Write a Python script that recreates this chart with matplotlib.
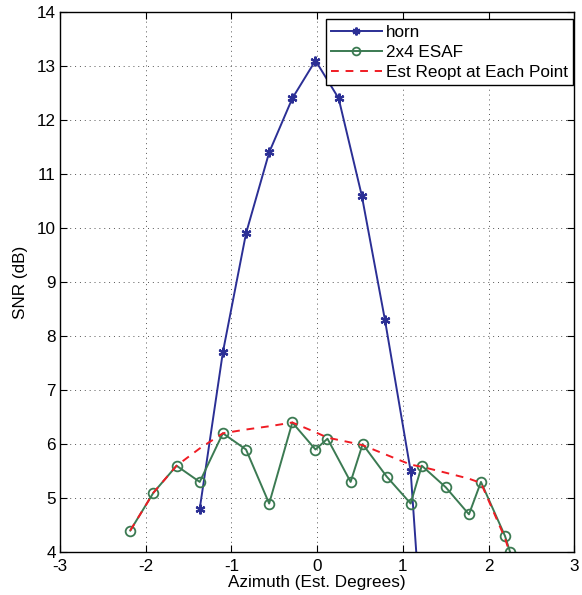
import matplotlib
matplotlib.use("Agg")
import matplotlib.pyplot as plt

plt.rcParams['font.family'] = ['Liberation Sans', 'DejaVu Sans']
plt.rcParams['axes.unicode_minus'] = False

# horn measurements
horn_az = [-1.37, -1.10, -0.83, -0.56, -0.29, -0.02, 0.25, 0.52, 0.79, 1.09, 1.36]
horn_snr = [4.8, 7.7, 9.9, 11.4, 12.4, 13.1, 12.4, 10.6, 8.3, 5.5, -0.7]

# 2x4 ESAF measurements
esaf_az = [-2.18, -1.91, -1.64, -1.37, -1.10, -0.83, -0.56, -0.29, -0.02, 0.12,
           0.39, 0.53, 0.81, 1.09, 1.22, 1.50, 1.77, 1.91, 2.19, 2.25]
esaf_snr = [4.4, 5.1, 5.6, 5.3, 6.2, 5.9, 4.9, 6.4, 5.9, 6.1,
            5.3, 6.0, 5.4, 4.9, 5.6, 5.2, 4.7, 5.3, 4.3, 4.0]

# estimated re-optimisation at each point
reopt_snr = [4.4, 5.1, 5.6, 5.92, 6.2, 6.27, 6.33, 6.4, 6.22, 6.12,
             6.03, 5.98, 5.8, 5.62, 5.58, 5.47, 5.36, 5.28, 4.26, 3.96]

fs = 12.3

fig = plt.figure(figsize=(5.82, 5.95), dpi=100)
ax = fig.add_axes([0.103, 0.072, 0.884, 0.908])

ax.plot(horn_az, horn_snr, color='#2b2f95', marker=(6, 2, 0), markersize=7,
        markeredgewidth=1.6, linewidth=1.4, label='horn')
ax.plot(esaf_az, esaf_snr, color='#3b7a52', marker='o', markersize=7,
        markerfacecolor='none', markeredgewidth=1.3, linewidth=1.4, label='2x4 ESAF')
ax.plot(esaf_az, reopt_snr, color='#f01c24', linestyle='--', linewidth=1.4,
        dashes=(4, 3.5), label='Est Reopt at Each Point')

ax.set_xlim(-3, 3)
ax.set_ylim(4, 14)
ax.set_xticks(range(-3, 4))
ax.set_yticks(range(4, 15))
ax.tick_params(direction='in', top=True, right=True, labelsize=fs, length=5)
ax.tick_params(axis='x', pad=5)
ax.tick_params(axis='y', pad=3)
ax.grid(True, linestyle=(0, (1, 4)), color='#555555', linewidth=0.7)
for s in ax.spines.values():
    s.set_linewidth(1.0)

ax.set_xlabel('Azimuth (Est. Degrees)', fontsize=fs, labelpad=1)
ax.set_ylabel('SNR (dB)', fontsize=fs, labelpad=6)

leg = ax.legend(loc='upper right', bbox_to_anchor=(0.998, 0.986), borderaxespad=0,
                fontsize=fs, fancybox=False, edgecolor='black', framealpha=1,
                handlelength=3.0, handletextpad=0.25, borderpad=0.3,
                labelspacing=0.3, markerscale=0.8)
leg.get_frame().set_linewidth(1.0)

fig.savefig('out.png', dpi=100)
